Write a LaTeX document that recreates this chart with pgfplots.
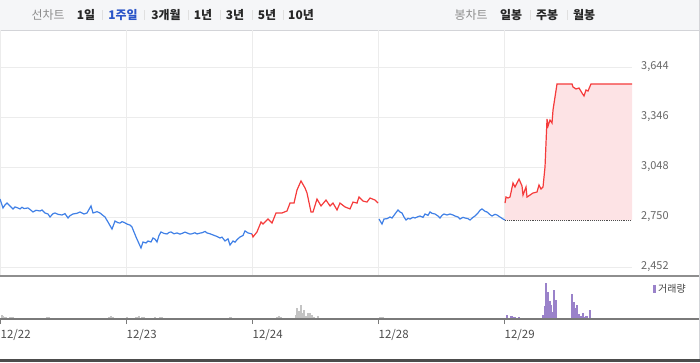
\documentclass[border=0pt]{standalone}
\usepackage{fontspec}
\setmainfont{Noto Sans CJK KR}
\usepackage{pgfplots}
\pgfplotsset{compat=1.18}
\definecolor{hdrbg}{HTML}{F5F6F8}
\definecolor{hdrline}{HTML}{D3D4D8}
\definecolor{gridc}{HTML}{ECECEC}
\definecolor{tickc}{HTML}{666666}
\definecolor{bluel}{HTML}{4080E6}
\definecolor{redl}{HTML}{F53B3B}
\definecolor{pinkf}{HTML}{FDE3E5}
\definecolor{volg}{HTML}{C4C4C4}
\definecolor{volp}{HTML}{9A82CA}
\definecolor{selb}{HTML}{2B55C8}
\definecolor{sepc}{HTML}{8E8E8E}
\definecolor{basec}{HTML}{7A7A7A}
\begin{document}
\begin{tikzpicture}[x=1bp,y=1bp]
\useasboundingbox (0,0) rectangle (700,362);
% header
\fill[hdrbg] (0,332) rectangle (699,362);
\draw[hdrline, line width=1bp] (0,331.5) -- (699.5,331.5);
\draw[hdrline, line width=1bp] (699.5,0) -- (699.5,362);
\begin{scope}[every node/.style={font=\fontsize{12}{14}\selectfont\bfseries, text=black!85, inner sep=0pt}]
\node[text=black!45, font=\fontsize{12}{14}\selectfont] at (48,347) {선차트};
\node at (86,347) {1일};
\node[text=selb] at (123,347) {1주일};
\node at (166,347) {3개월};
\node at (203,347) {1년};
\node at (235,347) {3년};
\node at (267,347) {5년};
\node at (301,347) {10년};
\node[text=black!45, font=\fontsize{12}{14}\selectfont] at (471,347) {봉차트};
\node at (511,347) {일봉};
\node at (547,347) {주봉};
\node at (584,347) {월봉};
\end{scope}
\foreach \xx in {102,144,188,220,252,283,530,567}{
  \draw[black!12, line width=0.7bp] (\xx,342) -- (\xx,352);
}
% price panel
\begin{axis}[
  at={(0bp,86bp)}, anchor=south west,
  width=632bp, height=246bp, scale only axis,
  xmin=0, xmax=632, ymin=2398.36, ymax=3864.5,
  axis line style={draw=none},
  xtick={0.5,126.5,252.5,378.5,504.5}, xticklabels={},
  ytick={2452,2750,3048,3346,3644},
  yticklabels={{2,452},{2,750},{3,048},{3,346},{3,644}},
  yticklabel pos=right,
  major tick length=0pt,
  grid=major, grid style={draw=gridc, line width=0.9bp},
  yticklabel style={font=\fontsize{11}{13}\selectfont, text=tickc, anchor=west, inner sep=0pt, xshift=9bp},
  clip=false,
]
\addplot[fill=pinkf, draw=none] coordinates {
(505,2732) (505,2833) (506,2869) (508,2863) (510,2869) (513,2953) (515,2929) (519,2976) (522,2935) (523,2881) (526,2929) (527,2869) (530,2881) (533,2893) (537,2899) (539,2941) (541,2917) (543,2929) (545,3048) (547,3334) (548,3292) (550,3328) (552,3310) (553,3388) (557,3543) (572,3543) (573,3525) (576,3513) (579,3519) (582,3489) (584,3471) (586,3507) (588,3501) (591,3543) (632,3543) (632,2732)
} -- cycle;
\addplot[black!70, densely dotted, line width=0.9bp] coordinates {(505,2732) (632,2732)};
\addplot[bluel, line width=1.2bp] coordinates {
(0,2857) (3,2804) (5,2822) (7,2833) (10,2815) (13,2798) (15,2810) (17,2806) (20,2798) (22,2808) (24,2800) (28,2804) (30,2795) (33,2780) (36,2790) (40,2786) (42,2792) (45,2774) (48,2768) (50,2750) (53,2770) (55,2774) (58,2766) (62,2762) (65,2770) (68,2744) (70,2758) (73,2768) (77,2772) (80,2780) (82,2774) (84,2768) (87,2774) (91,2816) (93,2774) (97,2782) (100,2774) (102,2764) (105,2750) (108,2720) (112,2678) (115,2726) (118,2716) (120,2714) (122,2722) (124,2718) (127,2708) (130,2702) (132,2690) (136,2631) (141,2565) (143,2601) (146,2595) (148,2607) (151,2601) (153,2625) (155,2618) (157,2601) (159,2640) (161,2661) (164,2652) (167,2649) (169,2658) (171,2661) (174,2650) (177,2655) (180,2648) (182,2652) (185,2660) (187,2655) (190,2648) (192,2650) (195,2656) (197,2649) (200,2654) (202,2656) (205,2664) (207,2655) (210,2650) (213,2643) (217,2634) (220,2625) (222,2630) (225,2607) (228,2620) (230,2583) (233,2607) (235,2600) (237,2615) (240,2631) (243,2640) (245,2667) (248,2655) (252,2649)
};
\addplot[redl, line width=1.2bp] coordinates {
(252,2649) (253,2631) (257,2661) (261,2720) (263,2708) (268,2738) (272,2714) (276,2774) (282,2774) (287,2786) (290,2833) (294,2833) (297,2911) (301,2965) (305,2923) (307,2893) (311,2780) (313,2780) (317,2857) (321,2816) (326,2851) (330,2816) (333,2833) (337,2792) (340,2833) (345,2810) (350,2798) (353,2839) (357,2833) (359,2869) (363,2845) (367,2839) (370,2863) (375,2851) (378,2833)
};
\addplot[bluel, line width=1.2bp] coordinates {
(379,2738) (382,2708) (384,2738) (387,2740) (390,2750) (392,2744) (395,2768) (398,2792) (400,2780) (402,2774) (404,2750) (406,2732) (408,2742) (410,2738) (413,2748) (415,2744) (418,2752) (420,2756) (423,2748) (425,2768) (428,2760) (430,2780) (432,2772) (435,2768) (438,2756) (440,2744) (442,2760) (444,2768) (447,2762) (450,2768) (453,2762) (455,2756) (458,2750) (460,2738) (463,2748) (465,2744) (468,2740) (470,2732) (473,2748) (475,2756) (478,2774) (480,2790) (482,2798) (485,2784) (487,2780) (490,2764) (492,2756) (495,2766) (497,2762) (500,2750) (503,2738) (505,2732)
};
\addplot[redl, line width=1.2bp] coordinates {
(505,2833) (506,2869) (508,2863) (510,2869) (513,2953) (515,2929) (519,2976) (522,2935) (523,2881) (526,2929) (527,2869) (530,2881) (533,2893) (537,2899) (539,2941) (541,2917) (543,2929) (545,3048) (547,3334) (548,3292) (550,3328) (552,3310) (553,3388) (557,3543) (572,3543) (573,3525) (576,3513) (579,3519) (582,3489) (584,3471) (586,3507) (588,3501) (591,3543) (632,3543)
};
\end{axis}
% volume panel
\begin{axis}[
  at={(0bp,43bp)}, anchor=south west,
  width=632bp, height=43bp, scale only axis,
  xmin=0, xmax=632, ymin=0, ymax=43,
  axis line style={draw=none},
  ytick=\empty,
  xtick={0.5,126.5,252.5,378.5,504.5},
  xticklabels={12/22,12/23,12/24,12/28,12/29},
  xtick pos=lower, tick align=outside,
  major tick length=5bp,
  xtick style={draw=basec, line width=1.2bp},
  xticklabel style={font=\fontsize{11.5}{13}\selectfont, text=black!70, anchor=north west, inner sep=0pt, yshift=-5bp},
  clip=false,
]
\addplot[ycomb, draw=volg, line width=1.2bp, mark=none] coordinates {
(2,4) (3,3) (5,2) (6,2) (10,2) (12,2) (13,2) (26,1.5) (37,1.5) (47,2) (49,2) (79,1.5) (99,1.5) (107,1.5) (109,2) (111,3) (113,2) (123,1.5) (127,2) (128,1.5) (136,2) (137,2) (139,3) (142,2.3) (144,2) (150,1.5) (155,1.7) (157,1.5) (160,1.7) (162,1.7) (163,1.5) (165,1.5) (168,1.5) (194,1.5) (217,1.5) (230,1.7) (231,1.7) (235,1.5) (243,1.5) (258,1.5) (260,1.5) (262,1.5) (268,1.5) (270,1.5) (277,2) (279,3) (281,2) (288,1.5) (290,1.5) (293,1.5) (296,4) (297,11) (299,7.7) (301,14.3) (303,6) (304,9.3) (306,3.3) (308,6) (310,6) (312,3.7) (314,2) (316,1.5) (318,3.3) (322,1) (326,1) (330,1) (336,1) (340,1) (346,1) (360,1) (362,1) (365,1) (367,1) (380,2) (382,2.3) (383,2) (407,1) (478,1) (481,1) (483,1) (502,1.3)
};
\addplot[ycomb, draw=volp, line width=1.2bp, mark=none] coordinates {
(506,1.3) (507,4) (509,1.3) (511,3) (512,3) (514,2) (515,2) (519,2) (521,1.3) (523,1.3) (524,1.3) (530,1.3) (538,1.3) (543,4) (545,13) (546,36) (548,27) (550,18) (551,14) (553,7) (554,29) (556,19) (558,1.3) (560,1.3) (563,1.3) (569,1.3) (570,1.3) (572,25) (574,17) (576,11) (577,14) (579,5) (581,3) (583,6) (584,2) (586,3) (587,3) (589,1.3) (590,9) (592,1.3)
};
\end{axis}
\draw[sepc, line width=1.2bp] (0,86) -- (699,86);
\draw[basec, line width=1.2bp] (0,43) -- (699,43);
\draw[black!70, line width=2.5bp] (0,1.5) -- (700,1.5);
\fill[volp] (653,69) rectangle (656,77);
\node[anchor=west, inner sep=0pt, font=\fontsize{10}{12}\selectfont, text=black!75] at (658,73) {거래량};
\end{tikzpicture}
\end{document}
